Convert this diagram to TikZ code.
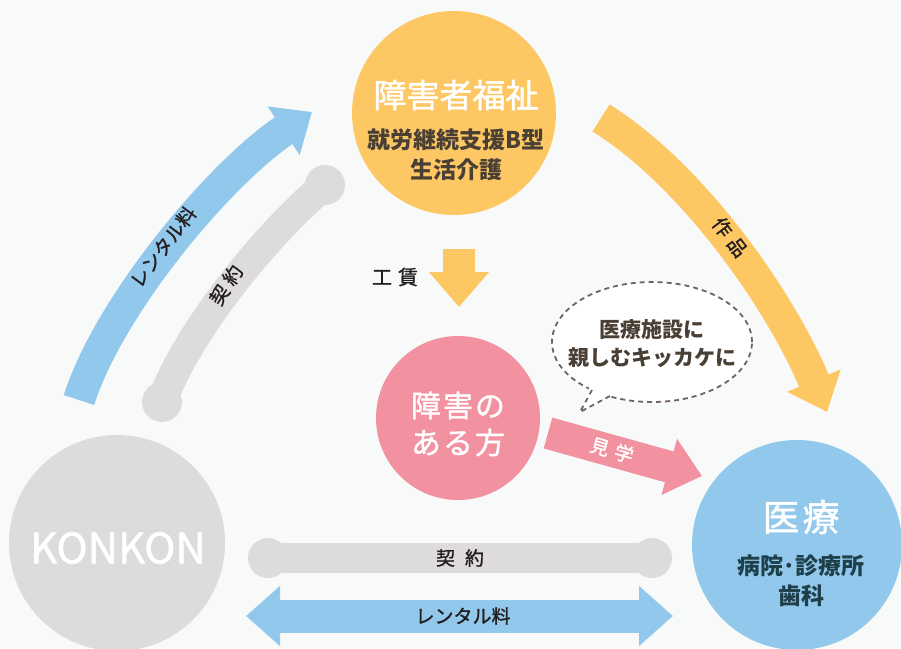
\documentclass[tikz,border=0pt]{standalone}
\usepackage{fontspec}
\usepackage{tikz}
\usetikzlibrary{positioning, arrows.meta, shapes.geometric}
\setmainfont{Noto Sans CJK JP}
\newfontfamily\mediumFont{Noto Sans CJK JP}[FakeBold=1.3]
\definecolor{bgColor}{RGB}{248,250,249}
\definecolor{welfareColor}{RGB}{253,200,100}
\definecolor{medicalColor}{RGB}{145,200,235}
\definecolor{personColor}{RGB}{242,145,160}
\definecolor{konkonColor}{RGB}{222,219,219}
\definecolor{brownText}{RGB}{74,63,53}
\definecolor{tealText}{RGB}{31,63,74}
\definecolor{labelText}{RGB}{35,31,32}
\definecolor{bubbleLine}{RGB}{110,100,95}
\tikzstyle{pixelFrame} = [x = 1pt, y = -1pt]
\tikzstyle{bigCircle} = [circle, inner sep = 0pt]
\tikzstyle{headText} = [text = white, align = center]
\tikzstyle{subText} = [align = center, font = \bfseries\fontsize{23}{30}\selectfont]
\tikzstyle{arrowText} = [text = labelText, font = \mediumFont\fontsize{19}{22}\selectfont]
\tikzstyle{fatArrow} = [line width = 32pt, -{Triangle[length = 34pt, width = 56pt]}]
\tikzstyle{bandLine} = [line width = 30pt, color = konkonColor]
\newcommand{\bandCap}[1]{\fill [konkonColor] (#1) circle (20pt);}
\newcommand{\sized}[2]{\mediumFont\fontsize{#1}{#2}\selectfont}

\begin{document}
\begin{tikzpicture}[pixelFrame]
          \fill [bgColor] (0,0) rectangle (901,648);
          \useasboundingbox (0,0) rectangle (901,648);

          \node (welfare) [bigCircle, fill = welfareColor, minimum size = 204pt] at (454,113) {};
          \node (welfareTitle) [headText, font = \sized{33}{36}] at (456,95) {障害者福祉};
          \node (welfareSub) [subText, text = brownText] at (456,155) {就労継続支援B型\\生活介護};

          \node (person) [bigCircle, fill = personColor, minimum size = 164pt] at (458,418) {};
          \node (personTitle) [headText, font = \sized{30}{37}] at (458,424) {障\hspace{2pt}害\hspace{2pt}の\\あ\hspace{2pt}る\hspace{2pt}方};

          \node (medical) [bigCircle, fill = medicalColor, minimum size = 210pt] at (797,545) {};
          \node (medicalTitle) [headText, font = \sized{37}{40}] at (801,517) {医\hspace{3pt}療};
          \node (medicalSub) [subText, text = tealText] at (801,581) {病院･診療所\\歯科};

          \node (konkon) [bigCircle, fill = konkonColor, minimum size = 216pt] at (117,543) {};
          \node (konkonTitle) [headText, font = \sized{42}{46}] at (118,548) {KONKON};

          \coordinate (rentalStart) at (79,400);
          \coordinate (rentalTip) at (312,112);
          \draw [fatArrow, medicalColor] (rentalStart) .. controls (109,305) and (221,172) .. (rentalTip);
          \node (rentalLabel) [arrowText, rotate = 53] at (163,247) {レンタル料};

          \coordinate (contractLow) at (162,402);
          \coordinate (contractHigh) at (325,185);
          \draw [bandLine] (contractLow) .. controls (185,335) and (265,235) .. (contractHigh);
          \bandCap{contractLow}
          \bandCap{contractHigh}
          \node (contractLabel) [arrowText, rotate = 57] at (226,285) {契\hspace{5pt}約};

          \coordinate (workStart) at (601,118);
          \coordinate (workTip) at (827,412);
          \draw [fatArrow, welfareColor] (workStart) .. controls (694,176) and (781,302) .. (workTip);
          \node (workLabel) [arrowText, rotate = -53] at (730,237) {作\hspace{6pt}品};

          \coordinate (wageStart) at (459,249);
          \coordinate (wageTip) at (459,307);
          \draw [line width = 32pt, welfareColor, -{Triangle[length = 35pt, width = 58pt]}] (wageStart) -- (wageTip);
          \node (wageLabel) [arrowText, font = \sized{20}{22}] at (395,277) {工\hspace{6pt}賃};

          \coordinate (visitStart) at (548,433);
          \coordinate (visitTip) at (702,476);
          \draw [fatArrow, personColor] (visitStart) -- (visitTip);
          \node (visitLabel) [arrowText, text = white, rotate = -16] at (612,450) {見\hspace{6pt}学};

          \coordinate (bandLeft) at (268,558);
          \coordinate (bandRight) at (652,558);
          \draw [bandLine] (bandLeft) -- (bandRight);
          \bandCap{bandLeft}
          \bandCap{bandRight}
          \node (bandLabel) [arrowText] at (460,558) {契\hspace{10pt}約};

          \coordinate (feeLeft) at (246,616);
          \coordinate (feeRight) at (673,616);
          \draw [line width = 33pt, medicalColor, {Triangle[length = 34pt, width = 58pt]}-{Triangle[length = 34pt, width = 58pt]}] (feeLeft) -- (feeRight);
          \node (feeLabel) [arrowText] at (463,616) {レンタル料};

          \node (bubble) [ellipse, draw = bubbleLine, dash pattern = on 5pt off 4pt, line width = 1.8pt, fill = white, minimum width = 200pt, minimum height = 120pt, inner sep = 0pt] at (652,342) {};
          \coordinate (tailA) at (592,390);
          \coordinate (tailTip) at (580,412);
          \coordinate (tailB) at (610,396);
          \fill [white] (590,386) -- (tailTip) -- (613,393) -- cycle;
          \draw [bubbleLine, dash pattern = on 5pt off 4pt, line width = 1.8pt] (tailA) -- (tailTip) -- (tailB);
          \node (bubbleText) [subText, text = brownText, font = \bfseries\fontsize{21}{28}\selectfont] at (652,344) {医療施設に\\親しむキッカケに};
        \end{tikzpicture}
\end{document}
